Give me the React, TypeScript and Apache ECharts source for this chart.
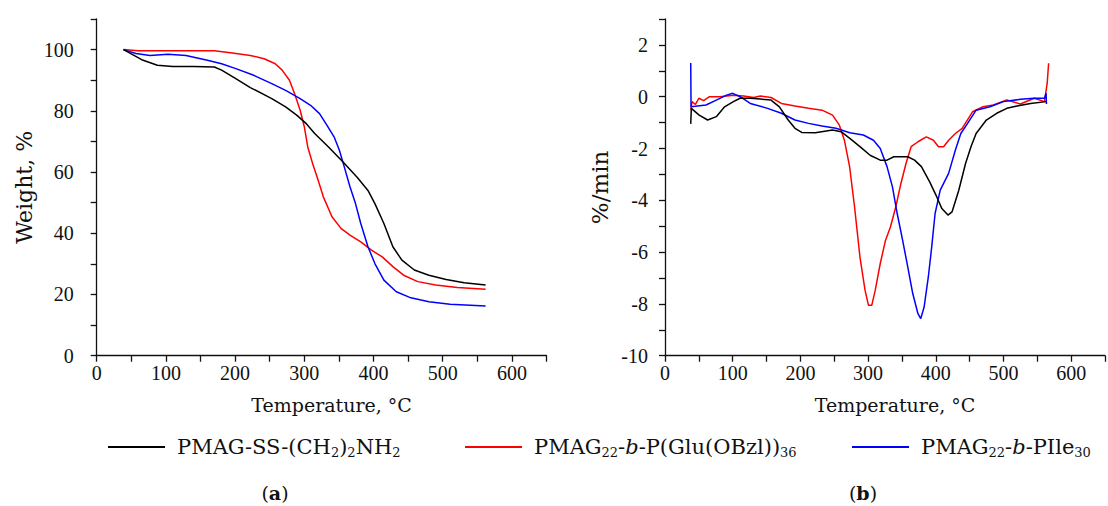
import React, { useEffect, useRef } from "react";
import * as echarts from "echarts";

// ---------- Data ----------
const seriesNames = [
  "PMAG-SS-(CH2)2NH2",
  "PMAG22-b-P(Glu(OBzl))36",
  "PMAG22-b-PIle30",
];
const seriesColors = ["#000000", "#ff0000", "#0000ff"];

// (a) TGA: temperature (°C) and weight (%)
const tgaBlackT = [38.7, 50, 65, 87.7, 110, 140, 170, 180.5, 201, 222, 253, 273, 289, 302, 315, 335, 356, 376, 392, 402, 415, 428, 441, 459, 480, 505, 531, 562];
const tgaBlackW = [100, 98.6, 96.7, 94.9, 94.5, 94.5, 94.3, 93.3, 90.5, 87.6, 84, 81.3, 78.6, 76, 72.6, 68.2, 63.3, 58.4, 54, 49.7, 43.2, 35.6, 31.2, 28, 26.3, 24.9, 23.8, 23.1];

const tgaRedT = [38.7, 60, 100, 140, 170, 196, 222, 242, 258, 268, 278.5, 286, 294, 300, 305, 312, 320, 327.5, 340, 353, 366, 381.6, 397, 412.6, 428, 443.5, 464, 490, 521, 562];
const tgaRedW = [100, 99.6, 99.6, 99.6, 99.6, 98.9, 98.1, 97, 95.4, 93.3, 90, 85.6, 80.2, 74.8, 68.2, 62.8, 57.3, 51.9, 45.4, 41.6, 39.4, 37.2, 34.5, 32.3, 29.1, 26.3, 24.2, 23.1, 22.3, 21.7];

const tgaBlueT = [38.7, 56.7, 77, 103, 129, 160, 180.5, 201, 227, 253, 273, 294, 309, 322, 332.6, 343, 350.7, 358.4, 366, 374, 381.6, 392, 402, 415, 433, 454, 480, 510.6, 562];
const tgaBlueW = [100, 98.7, 98.1, 98.5, 98.1, 96.5, 95.4, 93.8, 91.6, 88.9, 86.7, 84, 81.8, 79.1, 75.3, 71.5, 67.1, 61.2, 55.2, 49.7, 43.2, 35.6, 30.1, 24.7, 20.9, 18.9, 17.6, 16.8, 16.2];

// (b) DTG: temperature (°C) and rate (%/min)
const dtgBlackT = [38, 38.9, 50.5, 63, 75.8, 88, 101, 111, 126, 141, 156.6, 169, 182, 192, 202, 222, 247.5, 260, 273, 288, 303, 318, 328, 338, 358.6, 368.7, 378.8, 391, 401.5, 409, 418, 424, 434, 444, 452, 459.6, 474.7, 490, 505, 520, 540, 563];
const dtgBlackR = [-1.05, -0.45, -0.71, -0.9, -0.77, -0.39, -0.19, -0.06, -0.06, -0.09, -0.13, -0.39, -0.9, -1.22, -1.38, -1.39, -1.29, -1.35, -1.61, -1.93, -2.26, -2.45, -2.45, -2.32, -2.32, -2.45, -2.7, -3.29, -3.87, -4.32, -4.57, -4.45, -3.61, -2.58, -1.93, -1.42, -0.9, -0.64, -0.45, -0.36, -0.26, -0.19];

const dtgRedT = [38, 40, 45, 50, 57, 65.6, 81, 101, 116, 131, 141, 156.6, 172, 192, 212, 232, 247.5, 257.6, 265, 272.7, 280, 288, 295.5, 300.5, 305.5, 310.6, 318, 325.8, 333, 341, 348.5, 356, 363.6, 373.7, 386, 396.5, 404, 411.6, 419, 429, 439, 454.5, 469.7, 485, 505, 525, 545.5, 560.6, 564.6, 566.7];
const dtgRedR = [-0.5, -0.19, -0.3, -0.06, -0.15, 0, 0, 0.06, 0.03, -0.03, 0.03, -0.03, -0.26, -0.36, -0.45, -0.52, -0.71, -1.1, -1.68, -2.7, -4.25, -6.19, -7.47, -8.05, -8.05, -7.47, -6.44, -5.54, -5.03, -4.25, -3.35, -2.58, -1.93, -1.74, -1.55, -1.68, -1.93, -1.93, -1.68, -1.42, -1.22, -0.58, -0.39, -0.32, -0.13, -0.28, -0.06, -0.19, 0.52, 1.29];

const dtgBlueT = [38, 38.5, 60.6, 75.8, 91, 100, 111, 126, 151.5, 172, 192, 212, 232, 252.5, 273, 293, 308, 318, 328, 336, 343, 351, 358.6, 366, 373.7, 377.8, 382.8, 389, 394, 399, 406.6, 419, 429, 437, 447, 459.6, 480, 500, 525, 545.5, 560.6, 563, 563.5];
const dtgBlueR = [1.3, -0.39, -0.32, -0.13, 0.06, 0.13, 0, -0.26, -0.45, -0.64, -0.9, -1.03, -1.13, -1.22, -1.39, -1.48, -1.68, -2.0, -2.7, -3.48, -4.51, -5.54, -6.57, -7.6, -8.38, -8.57, -8.12, -6.96, -5.8, -4.51, -3.61, -2.96, -2.06, -1.42, -1.03, -0.52, -0.39, -0.19, -0.1, -0.06, -0.06, 0.13, -0.28];

const xTickLabels = [0, 100, 200, 300, 400, 500, 600];
const tgaTickLabels = [0, 20, 40, 60, 80, 100];
const dtgTickLabels = [-10, -8, -6, -4, -2, 0, 2];

const zip = (xs: number[], ys: number[]) => xs.map((x, i) => [x, ys[i]]);

const TICK_FONT = "'Liberation Serif', serif";
const TITLE_FONT = "'DejaVu Serif', serif";

const legendRich: Record<string, string> = {
  [seriesNames[0]]: "PMAG-SS-(CH{s|2}){s|2}NH{s|2}",
  [seriesNames[1]]: "PMAG{s|22}-{i|b}-P(Glu(OBzl)){s|36}",
  [seriesNames[2]]: "PMAG{s|22}-{i|b}-PIle{s|30}",
};

export default function App() {
  const ref = useRef<HTMLDivElement>(null);

  useEffect(() => {
    if (!ref.current) return;
    const chart = echarts.init(ref.current, undefined, { renderer: "svg" });

    const axisLine = { show: true, onZero: false, lineStyle: { color: "#111", width: 1.3 } };
    const axisTick = { show: true, inside: false, length: 6, lineStyle: { color: "#111", width: 1.3 } };

    const xAxisCommon = (gridIndex: number) => ({
      type: "value",
      gridIndex,
      min: 0,
      max: 650,
      interval: 50,
      axisLine,
      axisTick,
      splitLine: { show: false },
      axisLabel: {
        margin: 7,
        fontFamily: TICK_FONT,
        fontSize: 20,
        color: "#111",
        formatter: (v: number) => (xTickLabels.includes(v) ? String(v) : ""),
      },
      name: "Temperature, °C",
      nameLocation: "middle",
      nameGap: 40,
      nameTextStyle: {
        fontFamily: TITLE_FONT,
        fontSize: 19,
        color: "#111",
        padding: [0, 0, 0, 20],
      },
    });

    const lineSeries = (idx: number, data: number[][], axisIdx: number) => ({
      type: "line",
      name: seriesNames[idx],
      xAxisIndex: axisIdx,
      yAxisIndex: axisIdx,
      data,
      showSymbol: false,
      symbol: "none",
      color: seriesColors[idx],
      lineStyle: { color: seriesColors[idx], width: 1.5 },
      z: idx === 0 ? 3 : 2,
    });

    const legendItem = (idx: number, left: number) => ({
      left,
      top: 435,
      padding: 0,
      icon: "rect",
      itemWidth: 57,
      itemHeight: 2,
      data: [seriesNames[idx]],
      formatter: (name: string) => legendRich[name],
      textStyle: {
        fontFamily: TITLE_FONT,
        fontSize: 21,
        color: "#111",
        lineHeight: 24,
        padding: [0, 0, 0, 7],
        rich: {
          s: { fontFamily: TITLE_FONT, fontSize: 13, lineHeight: 13, color: "#111", verticalAlign: "bottom" },
          i: { fontFamily: TITLE_FONT, fontSize: 21, fontStyle: "italic", color: "#111" },
        },
      },
    });

    const panelLabel = (letter: string, x: number) => ({
      type: "text",
      x,
      y: 493,
      style: {
        text: "({b|" + letter + "})",
        font: "19px 'DejaVu Serif', serif",
        fill: "#111",
        align: "center",
        verticalAlign: "middle",
        rich: { b: { fontWeight: "bold", fontFamily: TITLE_FONT, fontSize: 19, fill: "#111" } },
      },
    });

    const option: any = {
      animation: false,
      backgroundColor: "#ffffff",
      grid: [
        { left: 96.7, top: 19, width: 449.8, height: 336.7, containLabel: false },
        { left: 665, top: 19, width: 449.8, height: 336.7, containLabel: false },
      ],
      xAxis: [xAxisCommon(0), xAxisCommon(1)],
      yAxis: [
        {
          type: "value",
          gridIndex: 0,
          min: 0,
          max: 110,
          interval: 10,
          axisLine,
          axisTick,
          splitLine: { show: false },
          axisLabel: {
            margin: 23,
            fontFamily: TICK_FONT,
            fontSize: 20,
            color: "#111",
            formatter: (v: number) => (tgaTickLabels.includes(v) ? String(v) : ""),
          },
          name: "Weight, %",
          nameLocation: "middle",
          nameGap: 61,
          nameTextStyle: { fontFamily: TITLE_FONT, fontSize: 22, color: "#111" },
        },
        {
          type: "value",
          gridIndex: 1,
          min: -10,
          max: 3,
          interval: 1,
          axisLine,
          axisTick,
          splitLine: { show: false },
          axisLabel: {
            margin: 17,
            fontFamily: TICK_FONT,
            fontSize: 20,
            color: "#111",
            formatter: (v: number) => (dtgTickLabels.includes(v) ? String(v) : ""),
          },
          name: "%/min",
          nameLocation: "middle",
          nameGap: 54,
          nameTextStyle: { fontFamily: TITLE_FONT, fontSize: 23, color: "#111" },
        },
      ],
      legend: [legendItem(0, 108), legendItem(1, 465), legendItem(2, 852)],
      series: [
        lineSeries(0, zip(tgaBlackT, tgaBlackW), 0),
        lineSeries(1, zip(tgaRedT, tgaRedW), 0),
        lineSeries(2, zip(tgaBlueT, tgaBlueW), 0),
        lineSeries(0, zip(dtgBlackT, dtgBlackR), 1),
        lineSeries(1, zip(dtgRedT, dtgRedR), 1),
        lineSeries(2, zip(dtgBlueT, dtgBlueR), 1),
      ],
      graphic: [panelLabel("a", 275), panelLabel("b", 863)],
    };

    chart.setOption(option);
    return () => chart.dispose();
  }, []);

  return (
    <div
      ref={ref}
      style={{ position: "fixed", left: 0, top: 0, width: 1108, height: 506, background: "#fff" }}
    />
  );
}
